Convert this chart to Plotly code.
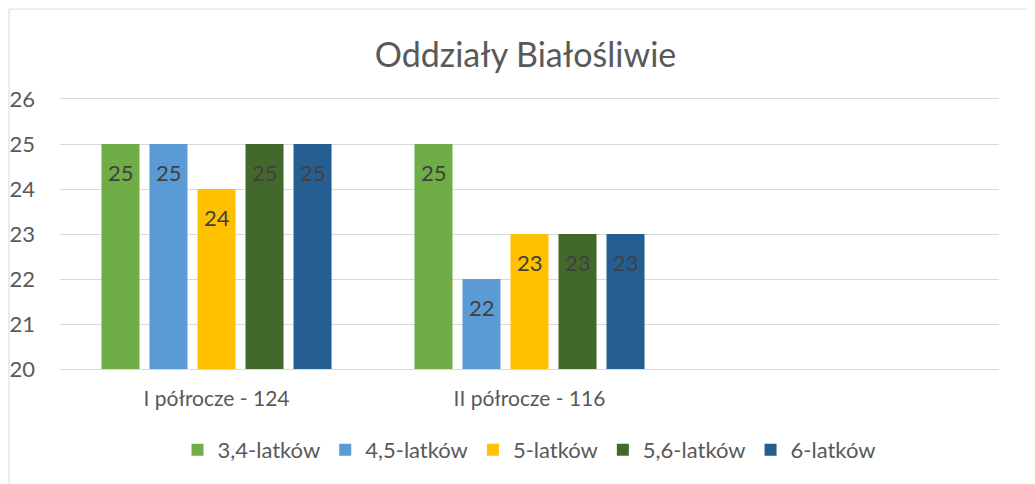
import plotly.graph_objects as go

# ---------- Data ----------
categories = ["I półrocze - 124", "II półrocze - 116", " "]
series_names = ["3,4-latków", "4,5-latków", "5-latków", "5,6-latków", "6-latków"]
val_34 = [25, 25, None]
val_45 = [25, 22, None]
val_5 = [24, 23, None]
val_56 = [25, 23, None]
val_6 = [25, 23, None]
y_ticks = [20, 21, 22, 23, 24, 25, 26]

colors = ["#70AD47", "#5B9BD5", "#FFC000", "#43682B", "#255E91"]
FONT = "Lato"
GREY = "#595959"
FS = 22

all_values = [val_34, val_45, val_5, val_56, val_6]

# ---------- Traces ----------
traces = []
for name, vals, col in zip(series_names, all_values, colors):
    traces.append(go.Bar(
        name=name,
        x=categories,
        y=vals,
        marker=dict(color=col, line=dict(width=0)),
        hoverinfo="x+y+name",
    ))

# data labels sit inside the top of each bar
annotations = []
slot_px = 48
for i, vals in enumerate(all_values):
    for cat, v in zip(categories, vals):
        if v is None:
            continue
        annotations.append(dict(
            x=cat, y=v, xref="x", yref="y",
            text=str(v), showarrow=False,
            xshift=(i - 2) * slot_px, yshift=-28,
            font=dict(family=FONT, size=FS, color="#404040"),
        ))

# chart border (only top and left edge visible in the frame)
border = dict(color="#D9D9D9", width=1)
shapes = [
    dict(type="line", xref="paper", yref="paper", x0=-0.0543, x1=1.2, y0=1.333, y1=1.333, line=border),
    dict(type="line", xref="paper", yref="paper", x0=-0.0543, x1=-0.0543, y0=1.333, y1=-0.6, line=border),
]

fig = go.Figure(data=traces)
fig.update_layout(
    width=1035,
    height=484,
    margin=dict(l=52, r=44, t=91, b=123, autoexpand=False),
    paper_bgcolor="white",
    plot_bgcolor="white",
    barmode="group",
    bargap=0.233,
    bargroupgap=0.208,
    font=dict(family=FONT, color=GREY, size=FS),
    title=dict(
        text="Oddziały Białośliwie",
        x=0.5, xanchor="center",
        y=0.903, yanchor="middle",
        font=dict(family=FONT, size=34, color=GREY),
    ),
    legend=dict(
        orientation="h",
        x=0.5, xanchor="center",
        y=-0.3, yanchor="middle",
        font=dict(family=FONT, size=FS, color=GREY),
        itemwidth=30,
        itemsizing="constant",
    ),
    annotations=annotations,
    shapes=shapes,
    xaxis=dict(
        type="category",
        categoryorder="array",
        categoryarray=categories,
        range=[-0.5, 2.5],
        automargin=False,
        showgrid=False,
        showline=True,
        mirror=True,
        linecolor="#D9D9D9",
        linewidth=1,
        ticks="",
        ticklabelstandoff=11,
        tickfont=dict(family=FONT, size=21, color=GREY),
        fixedrange=True,
    ),
    yaxis=dict(
        range=[20, 26],
        tickvals=y_ticks,
        automargin=False,
        showgrid=True,
        gridcolor="#D9D9D9",
        gridwidth=1,
        zeroline=False,
        showline=False,
        ticks="",
        ticklabelstandoff=24,
        tickfont=dict(family=FONT, size=FS, color=GREY),
        fixedrange=True,
    ),
)

fig.write_html("out.html")
